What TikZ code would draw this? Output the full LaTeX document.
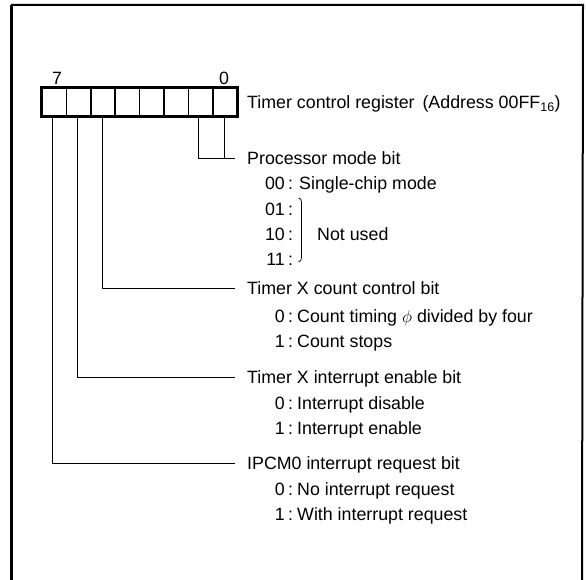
\documentclass[tikz,border=0pt]{standalone}
\usepackage{fontspec}
\setmainfont{Liberation Sans}
\begin{document}
\begin{tikzpicture}[x=1pt,y=-1pt,
  lbl/.style={font=\fontsize{17.8}{20}\selectfont, inner sep=0pt, text height=12.7pt, text depth=0pt, anchor=west},
  val/.style={lbl, anchor=east},
  colon/.style={lbl, anchor=center},
  cell/.style={draw, line width=1.5pt, minimum width=24.4pt, minimum height=28pt, inner sep=0pt},
  conn/.style={line width=0.8pt},
  frame/.style={line width=2pt}]
\useasboundingbox (0,0) rectangle (586,580);
% outer frame (bottom edge cut off)
\draw[line width=3pt] (11,580) -- (11,5);
\draw[frame] (11,5) -- (583,5) -- (582,580);
% register cells, bit 7 at left
\foreach \b [count=\i from 0] in {7,6,5,4,3,2,1,0}
  \node[cell] (c\b) at ({42+24.4*(\i+0.5)},102) {};
\draw[line width=2.5pt] (c7.north west) rectangle (c0.south east);
\node[colon] (n7) at (57,78) {7};
\node[colon] (n0) at (224,78) {0};
\node[lbl] (reg) at (247,102) {Timer control register\;\,(Address 00FF\textsubscript{16})};
% processor mode bit
\node[lbl] (lpm) at (247,158) {Processor mode bit};
\node[val] (v00) at (285,183) {00};
\node[colon] (k00) at (290.5,183) {:};
\node[lbl] (t00) at (299,183) {Single-chip mode};
\node[val] (v01) at (285,209) {01};
\node[colon] (k01) at (290.5,209) {:};
\node[val] (v10) at (285,234) {10};
\node[colon] (k10) at (290.5,234) {:};
\node[val] (v11) at (285,259) {11};
\node[colon] (k11) at (290.5,259) {:};
\node[lbl] (nu) at (317,234) {Not used};
\draw[line width=0.8pt] (298.5,198) to[out=0,in=90] (301.5,202) -- (301.5,257) to[out=-90,in=0] (298.5,262);
% timer X count control bit
\node[lbl] (lcc) at (247,288) {Timer X count control bit};
\node[val] (vc0) at (285,316) {0};
\node[colon] (kc0) at (290.5,316) {:};
\node[lbl] (tc0) at (297,316) {Count timing $\phi$ divided by four};
\node[val] (vc1) at (285,341) {1};
\node[colon] (kc1) at (290.5,341) {:};
\node[lbl] (tc1) at (297,341) {Count stops};
% timer X interrupt enable bit
\node[lbl] (lie) at (247,377) {Timer X interrupt enable bit};
\node[val] (ve0) at (285,403) {0};
\node[colon] (ke0) at (290.5,403) {:};
\node[lbl] (te0) at (297,403) {Interrupt disable};
\node[val] (ve1) at (285,428) {1};
\node[colon] (ke1) at (290.5,428) {:};
\node[lbl] (te1) at (297,428) {Interrupt enable};
% IPCM0 interrupt request bit
\node[lbl] (lir) at (247,463) {IPCM0 interrupt request bit};
\node[val] (vr0) at (285,489) {0};
\node[colon] (kr0) at (290.5,489) {:};
\node[lbl] (tr0) at (297,489) {No interrupt request};
\node[val] (vr1) at (285,514) {1};
\node[colon] (kr1) at (290.5,514) {:};
\node[lbl] (tr1) at (297,514) {With interrupt request};
% connectors
\draw[conn] ([xshift=-2pt]c1.south) |- ([xshift=-12pt]lpm.west);
\draw[conn] ([xshift=-1pt]c0.south) -- ([xshift=-1pt]c0.south |- lpm.west);
\draw[conn] ([xshift=-1pt]c5.south) |- ([xshift=-12pt]lcc.west);
\draw[conn] ([xshift=-1.5pt]c6.south) |- ([xshift=-12pt]lie.west);
\draw[conn] ([xshift=-2pt]c7.south) |- ([xshift=-12pt]lir.west);
\end{tikzpicture}
\end{document}
